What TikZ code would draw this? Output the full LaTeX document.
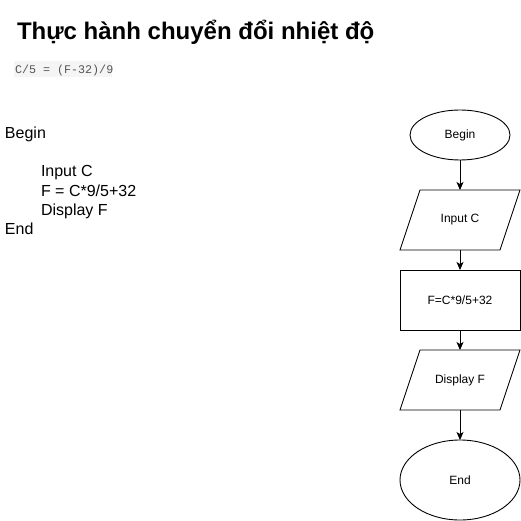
\documentclass[tikz,border=0pt]{standalone}
\usepackage{fontspec}
\setmainfont{Liberation Sans}
\setmonofont{Liberation Mono}
\usetikzlibrary{shapes.geometric,arrows.meta}
\definecolor{codebg}{HTML}{F5F5F5}
\definecolor{codefg}{HTML}{555555}
\tikzset{
  every node/.style={inner sep=0pt, outer sep=0pt},
  fl/.style={draw=black, line width=0.9pt, font=\fontsize{12}{14}\selectfont, align=center},
  term/.style={fl, ellipse},
  io/.style={fl, draw=none, rectangle, minimum width=100pt, minimum height=60pt},
  iobox/.style={draw=black, line width=0.9pt, line join=miter},
  proc/.style={fl, rectangle, minimum width=120pt, minimum height=60pt},
  conn/.style={draw=black, line width=0.9pt, -{Stealth[length=8pt,width=7pt,inset=2pt]}},
  code/.style={font=\fontsize{16}{19.2}\selectfont, anchor=base west},
}
\begin{document}
\begin{tikzpicture}[x=1pt,y=-1pt]
\useasboundingbox[fill=white] (0,0) rectangle (521,521);
% title
\node[anchor=base west, font=\fontsize{24}{28}\selectfont\bfseries] (title) at (17,39.5) {Thực hành chuyển đổi nhiệt độ};
% formula
\fill[codebg] (14,61) rectangle (112,77);
\node[anchor=base west, font=\ttfamily\fontsize{11.7}{13}\selectfont, text=codefg] (formula) at (15,74) {C/5 = (F-32)/9};
% pseudo-code
\node[code] (pb) at (5,138.5) {Begin};
\node[code] (pi) at (41,177) {Input C};
\node[code] (pf) at (41,196.2) {F = C*9/5+32};
\node[code] (pd) at (41,215.4) {Display F};
\node[code] (pe) at (5,234.6) {End};
% flowchart
\node[term, minimum width=100pt, minimum height=50pt] (begin) at (460,135) {Begin};
\node[io] (input) at (460,220) {Input C};
\node[proc] (calc) at (460,300) {F=C*9/5+32};
\node[io] (disp) at (460,380) {Display F};
\node[term, minimum width=120pt, minimum height=80pt] (end) at (460,480) {End};
\foreach \n in {input,disp}{
  \draw[iobox] ([xshift=10pt]\n.north west) -- ([xshift=10pt]\n.north east)
     -- ([xshift=-10pt]\n.south east) -- ([xshift=-10pt]\n.south west) -- cycle;
}
\draw[conn] (begin) -- (input);
\draw[conn] (input) -- (calc);
\draw[conn] (calc) -- (disp);
\draw[conn] (disp) -- (end);
\end{tikzpicture}
\end{document}
